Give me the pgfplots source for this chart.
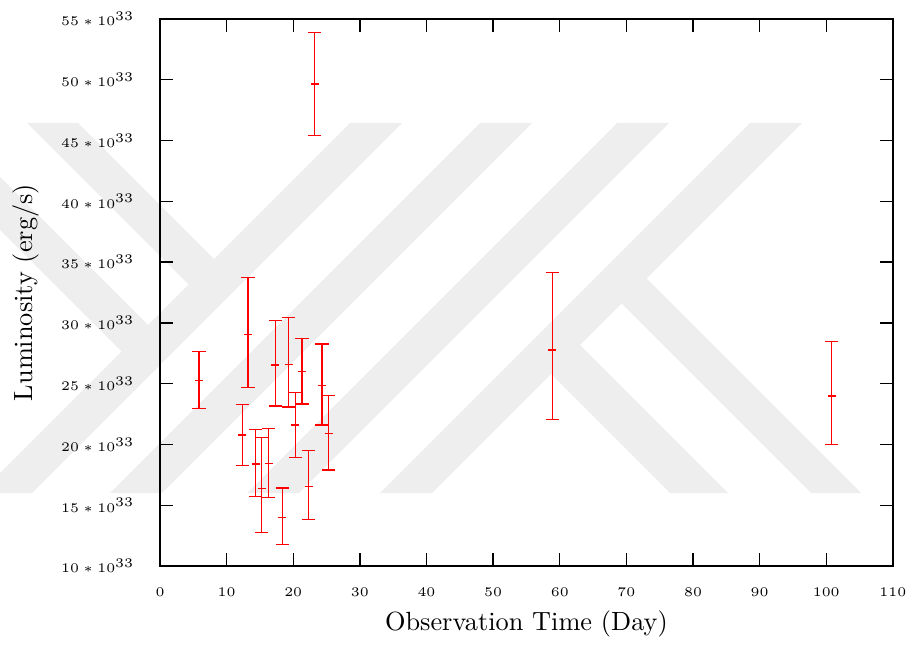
\documentclass[border=0pt]{standalone}
\usepackage{pgfplots}
\pgfplotsset{compat=1.18}
\usepackage{pgfplotstable}
\definecolor{wm}{RGB}{238,238,238}
\pgfplotstableread{
x      y      ep    em
5.85   25.24  2.38  2.27
13.20  29.05  4.66  4.35
12.35  20.77  2.53  2.49
14.36  18.39  2.85  2.69
15.26  16.39  4.19  3.65
16.31  18.45  2.84  2.80
18.35  14.00  2.41  2.25
17.31  26.53  3.64  3.37
19.31  26.59  3.83  3.51
20.31  21.60  2.68  2.66
21.31  25.98  2.71  2.66
22.31  16.52  2.99  2.68
23.22  49.64  4.25  4.22
24.31  24.83  3.43  3.23
25.31  20.91  3.10  3.02
58.90  27.76  6.36  5.70
100.80 23.98  4.47  3.97
}\lumdata
\begin{document}
\begin{tikzpicture}
\begin{scope}[x=0.38pt,y=-0.38pt,shift={(-160,-566)}]
  \clip (0,0) rectangle (911,644);
  \fill[wm] (350,123) -- (402,123) -- (32,493) -- (-20,493) -- cycle;
  \fill[wm] (480,123) -- (532,123) -- (162,493) -- (110,493) -- cycle;
  \fill[wm] (617,123) -- (669,123) -- (299,493) -- (247,493) -- cycle;
  \fill[wm] (750,123) -- (802,123) -- (432,493) -- (380,493) -- cycle;
  \fill[wm] (27,123) -- (78,123) -- (227.5,272.5) -- (202,298) -- cycle;
  \fill[wm] (0,177) -- (161.5,338.5) -- (135,365) -- (0,230) -- cycle;
  \fill[wm] (634,266) -- (861,493) -- (811,493) -- (609,291) -- cycle;
  \fill[wm] (567.5,332.5) -- (728,493) -- (670,493) -- (538.5,361.5) -- cycle;
\end{scope}
\begin{axis}[
  at={(0,0)}, anchor=south west,
  scale only axis, width=278.5pt, height=207.9pt,
  xmin=0, xmax=110, ymin=10, ymax=55,
  xtick={0,10,...,110}, ytick={10,15,...,55},
  minor tick num=0,
  tick align=inside, major tick length=5pt,
  axis line style={line width=0.5pt},
  every tick/.style={black, line width=0.5pt},
  yticklabel={$\pgfmathprintnumber{\tick}\ast 10^{\textstyle 33}$},
  yticklabel style={font=\fontsize{5}{6}\selectfont, inner sep=0pt, anchor=east, xshift=-9.5pt},
  xticklabel style={font=\fontsize{5}{6}\selectfont, inner sep=0pt, anchor=north, yshift=-8.2pt},
  xlabel={Observation Time (Day)},
  ylabel={Luminosity (erg/s)},
  xlabel style={at={(axis description cs:0.5,-0.106)}, anchor=center, font=\normalsize},
  ylabel style={at={(axis description cs:-0.1835,0.5)}, anchor=center, font=\normalsize},
  label style={inner sep=0pt},
]
\addplot+[red, only marks, mark=+, mark size=1.5pt, line width=0.5pt,
  mark options={red, line width=0.5pt},
  error bars/.cd, y dir=both, y explicit,
  error bar style={red, line width=0.5pt},
  error mark options={rotate=90, red, mark size=2.5pt, line width=0.5pt}]
  table[x=x, y=y, y error plus=ep, y error minus=em] {\lumdata};
\end{axis}
\begin{scope}[x=0.38pt,y=-0.38pt,shift={(-160,-566)}]
  \pgfresetboundingbox
  \path[use as bounding box] (0,0) rectangle (911,644);
\end{scope}
\end{tikzpicture}
\end{document}
